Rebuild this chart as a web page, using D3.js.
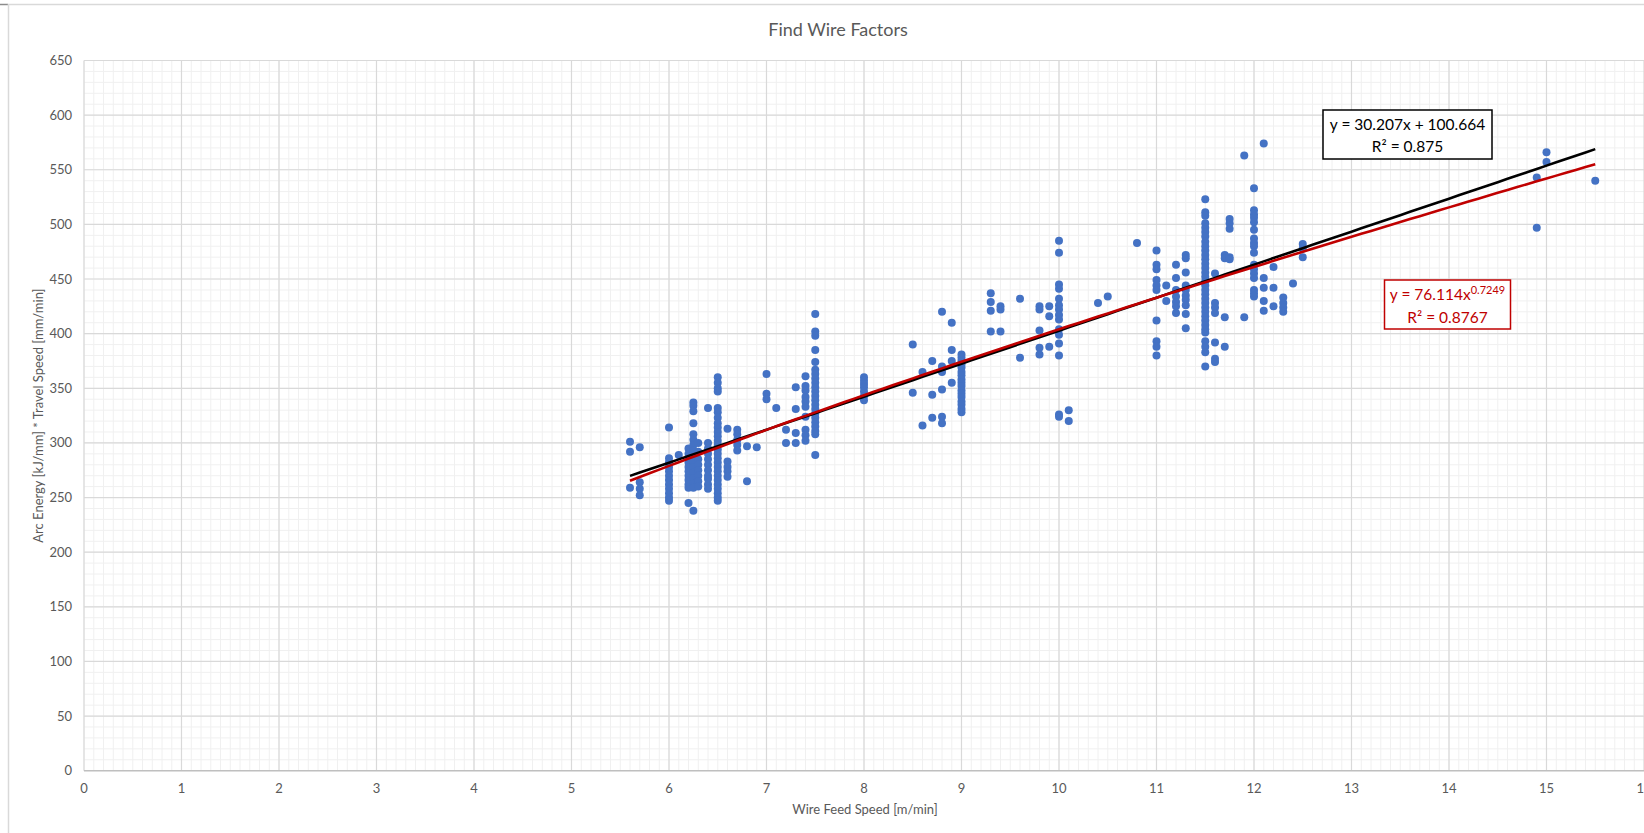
<!DOCTYPE html>
<html>
<head>
<meta charset="utf-8">
<script src="https://cdnjs.cloudflare.com/ajax/libs/d3/7.8.5/d3.min.js"></script>
<style>
  body { margin: 0; background: #fff; }
  svg { display: block; font-family: Lato, "Open Sans", sans-serif; }
  .tick-label { fill: #595959; font-size: 13px; }
  .axis-title { fill: #595959; font-size: 13px; }
</style>
</head>
<body>
<div id="chart"></div>
<script>
// wire feed speed columns [m/min] and the measured values at each of them
var wfs = [5.6, 5.7, 6.0, 6.1, 6.2, 6.25, 6.3, 6.4, 6.5, 6.6, 6.7, 6.8, 6.9, 7.0, 7.1, 7.2, 7.3, 7.4, 7.5,
           8.0, 8.5, 8.6, 8.7, 8.8, 8.9, 9.0, 9.3, 9.4, 9.6, 9.8, 9.9, 10.0, 10.1, 10.4, 10.5, 10.8,
           11.0, 11.1, 11.2, 11.3, 11.5, 11.6, 11.7, 11.75, 11.9, 12.0, 12.1, 12.2, 12.3, 12.4, 12.5,
           14.9, 15.0, 15.5]
var energy = [
  [301, 292, 259],
  [296, 264, 258, 252],
  [314, 286, 282, 278, 274, 270, 266, 262, 258, 254, 250, 247],
  [289],
  [295, 290, 286, 282, 278, 274, 270, 266, 262, 259, 245],
  [337, 334, 329, 318, 308, 303, 298, 293, 288, 283, 278, 273, 268, 263, 259, 238],
  [300, 292, 285, 280, 275, 270, 265, 260],
  [332, 300, 295, 290, 285, 280, 275, 270, 267, 262, 258],
  [360, 355, 350, 347, 332, 328, 323, 318, 314, 310, 306, 302, 298, 294, 290, 286, 282, 278, 274, 270, 266, 262, 258, 254, 250, 247],
  [313, 283, 278, 274, 269],
  [312, 308, 303, 298, 293],
  [297, 265],
  [296],
  [363, 345, 340],
  [332],
  [312, 300],
  [351, 331, 309, 300],
  [361, 352, 348, 342, 338, 333, 324, 312, 307, 302],
  [418, 402, 398, 385, 374, 367, 363, 359, 355, 351, 347, 343, 339, 335, 331, 327, 323, 319, 315, 311, 308, 289],
  [360, 357, 354, 351, 347, 343, 339],
  [390, 346],
  [365, 316],
  [375, 344, 323],
  [420, 370, 365, 349, 324, 318],
  [410, 385, 375, 355],
  [381, 378, 375, 372, 369, 365, 362, 358, 355, 352, 348, 345, 342, 338, 335, 331, 328],
  [437, 429, 421, 402],
  [425, 422, 402],
  [432, 378],
  [425, 422, 403, 387, 381],
  [425, 416, 388],
  [485, 474, 445, 441, 432, 426, 422, 417, 413, 404, 399, 391, 380, 326, 324],
  [330, 320],
  [428],
  [434],
  [483],
  [476, 463, 459, 449, 444, 440, 412, 393, 388, 380],
  [444, 430],
  [463, 451, 440, 434, 429, 425, 419],
  [472, 469, 456, 444, 440, 435, 431, 426, 418, 405],
  [523, 511, 508, 501, 497, 493, 489, 484, 480, 476, 472, 468, 464, 460, 456, 452, 448, 444, 440, 436, 432, 428, 424, 420, 416, 412, 408, 404, 401, 393, 388, 383, 370],
  [455, 428, 424, 419, 392, 377, 374],
  [472, 469, 415, 388],
  [505, 501, 496, 470, 468],
  [563, 415],
  [533, 513, 509, 506, 502, 495, 487, 483, 480, 474, 463, 459, 455, 451, 440, 437, 434],
  [574, 451, 442, 430, 421],
  [461, 442, 425],
  [433, 428, 424, 420],
  [446],
  [482, 478, 470],
  [543, 497],
  [566, 557],
  [540]
]

// trendlines from the spreadsheet
var linSlope = 30.207, linIntercept = 100.664, linR2 = "0.875"
var powCoef = 76.114, powExp = 0.7249, powR2 = "0.8767"

var xTicks = d3.range(0, 17, 1)
var yTicks = d3.range(0, 651, 50)

var width = 1644, height = 833
var plot = {left: 84, right: 1644, top: 60.5, bottom: 770.7}

var points = []
wfs.forEach(function(x, i) {
    energy[i].forEach(function(y) { points.push({x: x, y: y}) })
})

var xScale = d3.scaleLinear().domain([0, 16]).range([plot.left, plot.right])
var yScale = d3.scaleLinear().domain([0, 650]).range([plot.bottom, plot.top])

var svg = d3.select("#chart").append("svg")
    .attr("width", width)
    .attr("height", height)

// chart frame (cropped)
svg.append("line").attr("x1", 8).attr("x2", width).attr("y1", 4.5).attr("y2", 4.5)
    .attr("stroke", "#d9d9d9").attr("stroke-width", 1.5)
svg.append("line").attr("x1", 0).attr("x2", 8).attr("y1", 4.5).attr("y2", 4.5)
    .attr("stroke", "#8c8c8c").attr("stroke-width", 1.5)
svg.append("line").attr("x1", 8.5).attr("x2", 8.5).attr("y1", 4).attr("y2", height)
    .attr("stroke", "#d9d9d9").attr("stroke-width", 1.5)

// minor grid
var grid = svg.append("g")
grid.selectAll(".minor-x").data(d3.range(0, 160).map(function(i) { return i / 10 }))
    .enter().append("line")
        .attr("x1", d => xScale(d)).attr("x2", d => xScale(d))
        .attr("y1", plot.top).attr("y2", plot.bottom)
        .attr("stroke", "#f0f0f0").attr("stroke-width", 1)
grid.selectAll(".minor-y").data(d3.range(0, 650, 10))
    .enter().append("line")
        .attr("x1", plot.left).attr("x2", plot.right)
        .attr("y1", d => yScale(d)).attr("y2", d => yScale(d))
        .attr("stroke", "#f0f0f0").attr("stroke-width", 1)

// major grid
grid.selectAll(".major-x").data(xTicks)
    .enter().append("line")
        .attr("x1", d => xScale(d)).attr("x2", d => xScale(d))
        .attr("y1", plot.top).attr("y2", plot.bottom)
        .attr("stroke", "#d9d9d9").attr("stroke-width", 1.2)
grid.selectAll(".major-y").data(yTicks.slice(1))
    .enter().append("line")
        .attr("x1", plot.left).attr("x2", plot.right)
        .attr("y1", d => yScale(d)).attr("y2", d => yScale(d))
        .attr("stroke", "#d9d9d9").attr("stroke-width", 1.2)

// x axis line
svg.append("line")
    .attr("x1", plot.left).attr("x2", plot.right)
    .attr("y1", yScale(0)).attr("y2", yScale(0))
    .attr("stroke", "#bfbfbf").attr("stroke-width", 1.6)

// tick labels
svg.selectAll(".xt").data(xTicks).enter().append("text")
    .attr("class", "tick-label")
    .attr("x", d => xScale(d)).attr("y", 793)
    .attr("text-anchor", "middle")
    .text(d => d)
svg.selectAll(".yt").data(yTicks).enter().append("text")
    .attr("class", "tick-label")
    .attr("x", 72).attr("y", d => yScale(d) + 4.5)
    .attr("text-anchor", "end")
    .text(d => d)

// titles
svg.append("text")
    .attr("x", 838).attr("y", 36)
    .attr("text-anchor", "middle")
    .attr("fill", "#595959").style("font-size", "18px")
    .text("Find Wire Factors")
svg.append("text")
    .attr("class", "axis-title")
    .attr("x", 865).attr("y", 814)
    .attr("text-anchor", "middle")
    .text("Wire Feed Speed [m/min]")
svg.append("text")
    .attr("class", "axis-title")
    .attr("transform", "translate(43," + ((plot.top + plot.bottom) / 2) + ")rotate(-90)")
    .attr("text-anchor", "middle")
    .text("Arc Energy [kJ/mm] * Travel Speed [mm/min]")

// points
svg.append("g").selectAll("circle").data(points).enter().append("circle")
    .attr("cx", d => xScale(d.x))
    .attr("cy", d => yScale(d.y))
    .attr("r", 4)
    .attr("fill", "#4472c4")

// trendlines
var xExt = d3.extent(points, d => d.x)
var xs = d3.range(xExt[0], xExt[1] + 0.001, 0.1)
var line = d3.line().x(d => xScale(d[0])).y(d => yScale(d[1]))

svg.append("path")
    .datum(xs.map(x => [x, linSlope * x + linIntercept]))
    .attr("d", line).attr("fill", "none")
    .attr("stroke", "#000").attr("stroke-width", 2.6)
svg.append("path")
    .datum(xs.map(x => [x, powCoef * Math.pow(x, powExp)]))
    .attr("d", line).attr("fill", "none")
    .attr("stroke", "#c00000").attr("stroke-width", 2.6)

// equation labels
var lin = svg.append("g")
lin.append("rect").attr("x", 1323).attr("y", 110).attr("width", 169).attr("height", 49)
    .attr("fill", "#fff").attr("stroke", "#000").attr("stroke-width", 1.5)
lin.append("text").attr("x", 1407.5).attr("y", 130).attr("text-anchor", "middle")
    .attr("fill", "#000").style("font-size", "15.5px")
    .text("y = " + linSlope + "x + " + linIntercept)
lin.append("text").attr("x", 1407.5).attr("y", 152).attr("text-anchor", "middle")
    .attr("fill", "#000").style("font-size", "15.5px")
    .text("R² = " + linR2)

var pow = svg.append("g")
pow.append("rect").attr("x", 1384.5).attr("y", 280).attr("width", 126).attr("height", 49)
    .attr("fill", "#fff").attr("stroke", "#c00000").attr("stroke-width", 1.5)
var t = pow.append("text").attr("x", 1447.5).attr("y", 300).attr("text-anchor", "middle")
    .attr("fill", "#c00000").style("font-size", "15.5px")
t.append("tspan").text("y = " + powCoef + "x")
t.append("tspan").attr("dy", -6).style("font-size", "11px").text(powExp)
pow.append("text").attr("x", 1447.5).attr("y", 322.5).attr("text-anchor", "middle")
    .attr("fill", "#c00000").style("font-size", "15.5px")
    .text("R² = " + powR2)
</script>
</body>
</html>
